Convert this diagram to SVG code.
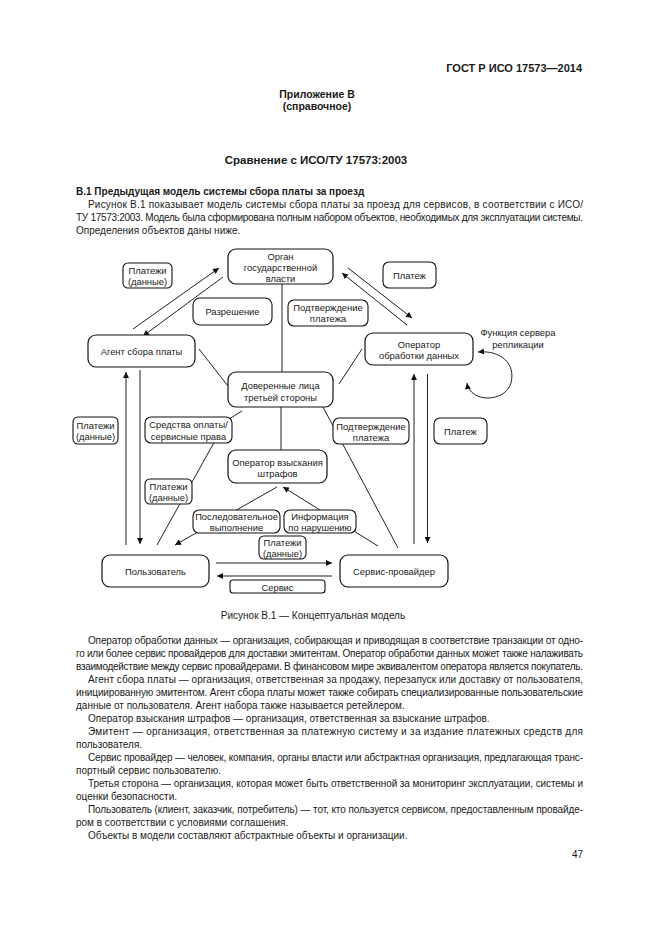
<svg xmlns="http://www.w3.org/2000/svg" width="661" height="935" viewBox="0 0 661 935">
<defs>
<style>
text{font-family:"Liberation Sans",Arial,sans-serif;fill:#1a1a1a}
.t{font-size:10px}
.n{font-size:9.4px;text-anchor:middle}
.b{font-weight:bold}
.c{text-anchor:middle}
.box{fill:#fff;stroke:#111;stroke-width:1.2}
.lbl{fill:#fff;stroke:#111;stroke-width:1.1}
.ln{fill:none;stroke:#222;stroke-width:1}
</style>
<marker id="ah" viewBox="0 0 10 10" refX="10" refY="5" markerWidth="7" markerHeight="6" markerUnits="userSpaceOnUse" orient="auto-start-reverse">
<path d="M0,0 L10,5 L0,10 z" fill="#111"/>
</marker>
</defs>
<rect width="661" height="935" fill="#fff"/>

<text class="b" x="582" y="72" font-size="11" text-anchor="end">ГОСТ Р ИСО 17573—2014</text>
<text class="b c" x="317" y="98" font-size="10.5">Приложение В</text>
<text class="b c" x="317" y="110" font-size="10.5">(справочное)</text>
<text class="b c" x="316" y="164" font-size="11.5">Сравнение с ИСО/ТУ 17573:2003</text>
<text class="b" x="76" y="195" font-size="10">В.1  Предыдущая модель системы сбора платы за проезд</text>
<text class="t" x="88" y="208" textLength="495" lengthAdjust="spacing">Рисунок В.1 показывает модель системы сбора платы за проезд для сервисов, в соответствии с ИСО/</text>
<text class="t" x="76" y="221" textLength="507" lengthAdjust="spacing">ТУ 17573:2003. Модель была сформирована полным набором объектов, необходимых для эксплуатации системы.</text>
<text class="t" x="76" y="234">Определения объектов даны ниже.</text>

<g id="connectors">
<line class="ln" x1="133" y1="329" x2="219" y2="268" marker-end="url(#ah)"/>
<line class="ln" x1="223" y1="277" x2="143" y2="336" marker-end="url(#ah)"/>
<line class="ln" x1="282" y1="284" x2="282" y2="372"/>
<line class="ln" x1="199" y1="349" x2="228" y2="386"/>
<line class="ln" x1="348" y1="268" x2="412" y2="318" marker-end="url(#ah)"/>
<line class="ln" x1="407" y1="325" x2="342" y2="273" marker-end="url(#ah)"/>
<line class="ln" x1="339" y1="384" x2="362" y2="349"/>
<line class="ln" x1="323" y1="407" x2="398" y2="548"/>
<polyline class="ln" points="242,411 226,421 157,545"/>
<line class="ln" x1="281" y1="407" x2="281" y2="451"/>
<line class="ln" x1="277" y1="487" x2="175" y2="545" marker-end="url(#ah)"/>
<line class="ln" x1="378" y1="546" x2="283" y2="487" marker-end="url(#ah)"/>
<line class="ln" x1="126" y1="545" x2="126" y2="372" marker-end="url(#ah)"/>
<line class="ln" x1="140" y1="370" x2="140" y2="544" marker-end="url(#ah)"/>
<line class="ln" x1="414" y1="544" x2="414" y2="374" marker-end="url(#ah)"/>
<line class="ln" x1="427.5" y1="374" x2="427.5" y2="543" marker-end="url(#ah)"/>
<line class="ln" x1="216" y1="563" x2="332" y2="563" marker-end="url(#ah)"/>
<line class="ln" x1="332" y1="576" x2="217" y2="576" marker-end="url(#ah)"/>
<path class="ln" d="M467,383 C470,403 505,403 511,383 C516,363 500,350 478,352" marker-start="url(#ah)" marker-end="url(#ah)"/>
</g>

<g id="organ"><rect class="box" x="228" y="249" width="105" height="35" rx="8"/>
<text class="n" x="280.5" y="260">Орган</text><text class="n" x="280.5" y="271">государственной</text><text class="n" x="280.5" y="281.5">власти</text></g>
<g id="lbl-payments-top"><rect class="lbl" x="123" y="263" width="49" height="25" rx="5"/>
<text class="n" x="147.5" y="274">Платежи</text><text class="n" x="147.5" y="285">(данные)</text></g>
<g id="lbl-permission"><rect class="lbl" x="193" y="298" width="79" height="27" rx="7"/>
<text class="n" x="232.5" y="315">Разрешение</text></g>
<g id="lbl-confirm-top"><rect class="lbl" x="288" y="300" width="80" height="26" rx="6"/>
<text class="n" x="328" y="311">Подтверждение</text><text class="n" x="328" y="322">платежа</text></g>
<g id="lbl-payment-top"><rect class="lbl" x="383" y="262" width="53" height="26" rx="6"/>
<text class="n" x="409.5" y="278.5">Платеж</text></g>
<g id="agent"><rect class="box" x="88" y="335" width="107" height="32" rx="8"/>
<text class="n" x="141.5" y="354.5">Агент сбора платы</text></g>
<g id="operator"><rect class="box" x="365" y="333" width="108" height="32" rx="8"/>
<text class="n" x="419" y="347.5">Оператор</text><text class="n" x="419" y="358.5">обработки данных</text></g>
<g id="replication"><text class="n" x="518" y="336">Функция сервера</text><text class="n" x="518" y="347.5">репликации</text></g>
<g id="trusted"><rect class="box" x="228" y="372" width="105" height="35" rx="8"/>
<text class="n" x="280.5" y="389">Доверенные лица</text><text class="n" x="280.5" y="400.5">третьей стороны</text></g>
<g id="lbl-means"><rect class="lbl" x="145" y="417" width="87" height="26" rx="6"/>
<text class="n" x="188.5" y="428">Средства оплаты/</text><text class="n" x="188.5" y="439.5">сервисные права</text></g>
<g id="lbl-payments-left"><rect class="lbl" x="73" y="417" width="45" height="27" rx="5"/>
<text class="n" x="95.5" y="428.5">Платежи</text><text class="n" x="95.5" y="440">(данные)</text></g>
<g id="lbl-confirm-mid"><rect class="lbl" x="333" y="418" width="76" height="26" rx="6"/>
<text class="n" x="371" y="429.5">Подтверждение</text><text class="n" x="371" y="440.5">платежа</text></g>
<g id="lbl-payment-mid"><rect class="lbl" x="434" y="418" width="53" height="26" rx="6"/>
<text class="n" x="460.5" y="435">Платеж</text></g>
<g id="penalty"><rect class="box" x="228" y="450" width="99" height="33" rx="8"/>
<text class="n" x="277.5" y="465.5">Оператор взыскания</text><text class="n" x="277.5" y="477">штрафов</text></g>
<g id="lbl-payments-mid"><rect class="lbl" x="145" y="479" width="47" height="25" rx="5"/>
<text class="n" x="168.5" y="489.5">Платежи</text><text class="n" x="168.5" y="500.5">(данные)</text></g>
<g id="lbl-sequential"><rect class="lbl" x="193" y="510" width="87" height="23" rx="6"/>
<text class="n" x="236.5" y="520">Последовательное</text><text class="n" x="236.5" y="530.5">выполнение</text></g>
<g id="lbl-violation"><rect class="lbl" x="284" y="510" width="72" height="23" rx="6"/>
<text class="n" x="320" y="520">Информация</text><text class="n" x="320" y="530.5">по нарушению</text></g>
<g id="lbl-payments-bottom"><rect class="lbl" x="259" y="536" width="47" height="23" rx="5"/>
<text class="n" x="282.5" y="546">Платежи</text><text class="n" x="282.5" y="556.5">(данные)</text></g>
<g id="lbl-service"><rect class="lbl" x="230" y="580" width="95" height="13" rx="3"/>
<text class="n" x="277.5" y="590.5">Сервис</text></g>
<g id="user"><rect class="box" x="102" y="555" width="107" height="32" rx="8"/>
<text class="n" x="155.5" y="574.5">Пользователь</text></g>
<g id="provider"><rect class="box" x="340" y="555" width="108" height="32" rx="8"/>
<text class="n" x="394" y="574.5">Сервис-провайдер</text></g>

<text class="t c" x="313" y="619">Рисунок В.1 — Концептуальная модель</text>
<g class="t">
<text class="t" x="88" y="644" textLength="495" lengthAdjust="spacing">Оператор обработки данных — организация, собирающая и приводящая в соответствие транзакции от одно-</text>
<text class="t" x="76" y="657" textLength="507" lengthAdjust="spacing">го или более сервис провайдеров для доставки эмитентам. Оператор обработки данных может также налаживать</text>
<text class="t" x="76" y="670" textLength="507" lengthAdjust="spacing">взаимодействие между сервис провайдерами. В финансовом мире эквивалентом оператора является покупатель.</text>
<text class="t" x="88" y="683" textLength="495" lengthAdjust="spacing">Агент сбора платы — организация, ответственная за продажу, перезапуск или доставку от пользователя,</text>
<text class="t" x="76" y="696" textLength="507" lengthAdjust="spacing">инициированную эмитентом. Агент сбора платы может также собирать специализированные пользовательские</text>
<text class="t" x="76" y="709">данные от пользователя. Агент набора также называется ретейлером.</text>
<text class="t" x="88" y="722">Оператор взыскания штрафов — организация, ответственная за взыскание штрафов.</text>
<text class="t" x="88" y="735" textLength="495" lengthAdjust="spacing">Эмитент — организация, ответственная за платежную систему и за издание платежных средств для</text>
<text class="t" x="76" y="748">пользователя.</text>
<text class="t" x="88" y="761" textLength="495" lengthAdjust="spacing">Сервис провайдер — человек, компания, органы власти или абстрактная организация, предлагающая транс-</text>
<text class="t" x="76" y="774">портный сервис пользователю.</text>
<text class="t" x="88" y="787" textLength="495" lengthAdjust="spacing">Третья сторона — организация, которая может быть ответственной за мониторинг эксплуатации, системы и</text>
<text class="t" x="76" y="800">оценки безопасности.</text>
<text class="t" x="88" y="813" textLength="495" lengthAdjust="spacing">Пользователь (клиент, заказчик, потребитель) — тот, кто пользуется сервисом, предоставленным провайде-</text>
<text class="t" x="76" y="826">ром в соответствии с условиями соглашения.</text>
<text class="t" x="88" y="839">Объекты в модели составляют абстрактные объекты и организации.</text>
</g>
<text class="t" x="583" y="858" text-anchor="end" font-size="11">47</text>
</svg>
